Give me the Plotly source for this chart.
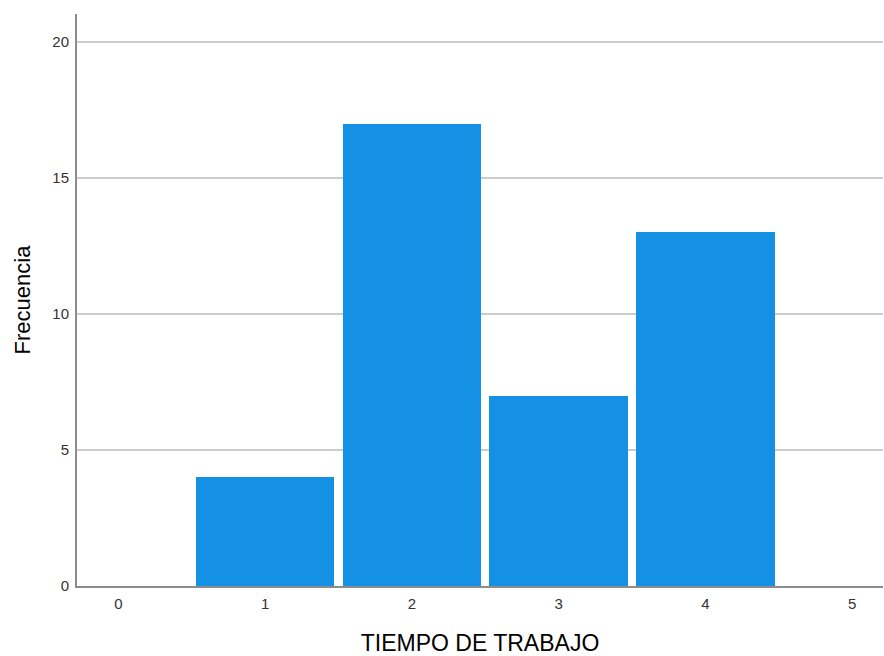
import plotly.graph_objects as go

categories = [1, 2, 3, 4]
frequencies = [4, 17, 7, 13]
x_ticks = [0, 1, 2, 3, 4, 5]
y_ticks = [0, 5, 10, 15, 20]

fig = go.Figure()
fig.add_trace(go.Bar(
    x=categories, y=frequencies, width=0.945,
    marker=dict(color="#1490e4", line=dict(width=0)),
))

tick_font = dict(family="Liberation Sans, Arial", size=15, color="#333333")

fig.update_layout(
    width=884, height=656,
    margin=dict(l=77, r=1, t=14, b=70, autoexpand=False),
    paper_bgcolor="white", plot_bgcolor="white",
    showlegend=False,
    bargap=0,
    xaxis=dict(
        range=[-0.282, 5.21], tickvals=x_ticks, ticktext=[str(v) for v in x_ticks],
        showgrid=False, zeroline=False, showline=True, linecolor="#8c8c8c", linewidth=2,
        ticks="", tickfont=tick_font, ticklabelstandoff=3, automargin=False,
        title=dict(text="TIEMPO DE TRABAJO",
                   font=dict(family="Liberation Sans, Arial", size=23, color="#000000"),
                   standoff=26),
    ),
    yaxis=dict(
        range=[0, 21.03], tickvals=y_ticks, ticktext=[str(v) for v in y_ticks],
        showgrid=True, gridcolor="#cccccc", gridwidth=1.5, zeroline=False,
        showline=True, linecolor="#8c8c8c", linewidth=2,
        ticks="", tickfont=tick_font, ticklabelstandoff=3, automargin=False,
        title=dict(text="Frecuencia",
                   font=dict(family="Liberation Sans, Arial", size=22, color="#000000"),
                   standoff=16),
    ),
)

fig.write_html(
    "out.html",
    config={"displayModeBar": False},
    post_script="document.body.style.margin='0';document.body.style.padding='0';",
)
